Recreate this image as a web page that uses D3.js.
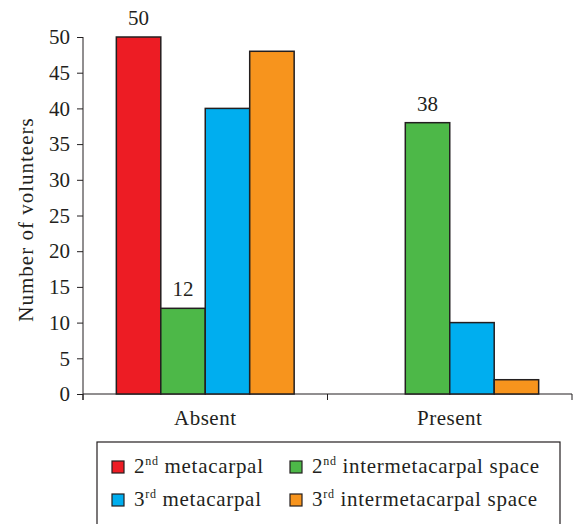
<!DOCTYPE html>
<html>
<head>
<meta charset="utf-8">
<script src="https://cdn.jsdelivr.net/npm/d3@7"></script>
<style>
  body { margin: 0; background: #fff; }
  svg, svg text { font-family: 'Liberation Serif', 'DejaVu Serif', serif; }
</style>
</head>
<body>
<div id="chart"></div>
<script>
const categories = ['Absent', 'Present']
const seriesNames = ['2nd metacarpal', '2nd intermetacarpal space', '3rd metacarpal', '3rd intermetacarpal space']
const absentValues = [50, 12, 40, 48]
const presentValues = [0, 38, 10, 2]
const yTicks = [0, 5, 10, 15, 20, 25, 30, 35, 40, 45, 50]
const labelled = [[0, 0], [0, 1], [1, 1]] // [category, series] pairs with a value label

const colors = ['#ed1c24', '#4db848', '#00aeef', '#f7941d']
const legend = [
  { num: '2', sup: 'nd', rest: ' metacarpal', s: 0 },
  { num: '2', sup: 'nd', rest: ' intermetacarpal space', s: 1 },
  { num: '3', sup: 'rd', rest: ' metacarpal', s: 2 },
  { num: '3', sup: 'rd', rest: ' intermetacarpal space', s: 3 }
]

const width = 573
const height = 524
const margin = { top: 37, right: 1, bottom: 130, left: 83 }
const stroke = '#231f20'
const ink = '#231f20'
const serif = "'Liberation Serif', 'DejaVu Serif', serif"
const fs = 21

const data = categories.map((c, i) => ({
  cat: c,
  values: (i === 0 ? absentValues : presentValues).map((v, s) => ({ s, v }))
}))

const svg = d3.select('#chart').append('svg')
  .attr('width', width)
  .attr('height', height)

const x0 = d3.scaleBand()
  .domain(categories)
  .range([margin.left, width - margin.right])

const x1 = d3.scaleBand()
  .domain(d3.range(seriesNames.length))
  .range([0, x0.bandwidth()])
  .paddingOuter(0.75)

const y = d3.scaleLinear()
  .domain([0, 50])
  .range([height - margin.bottom, margin.top])

// y axis
svg.append('g')
  .attr('transform', `translate(${margin.left},0)`)
  .call(d3.axisLeft(y).tickValues(yTicks).tickSize(6).tickPadding(7).tickSizeOuter(0))
  .call(g => g.attr('font-family', serif).attr('font-size', fs))
  .call(g => g.select('.domain').attr('stroke', stroke).attr('d', `M0,${y(0) + 6}V${y(50)}`))
  .call(g => g.selectAll('.tick line').attr('stroke', stroke))
  .call(g => g.selectAll('.tick text').attr('fill', ink).style('font-family', serif))

// x axis with ticks at band edges
const xAxis = svg.append('g')
xAxis.append('line')
  .attr('x1', margin.left).attr('x2', width - margin.right)
  .attr('y1', y(0)).attr('y2', y(0))
  .attr('stroke', stroke)
xAxis.selectAll('line.edge')
  .data([...categories.map(c => x0(c)), x0(categories[1]) + x0.bandwidth()])
  .join('line')
  .attr('class', 'edge')
  .attr('x1', d => d).attr('x2', d => d)
  .attr('y1', y(0)).attr('y2', y(0) + 6)
  .attr('stroke', stroke)
xAxis.selectAll('text')
  .data(categories)
  .join('text')
  .attr('x', d => x0(d) + x0.bandwidth() / 2)
  .attr('y', y(0) + 31)
  .attr('text-anchor', 'middle')
  .attr('font-size', fs)
  .attr('letter-spacing', 0.5)
  .attr('fill', ink)
  .text(d => d)

// y title
svg.append('text')
  .attr('transform', `translate(33,${(y(0) + y(50)) / 2 + 4}) rotate(-90)`)
  .attr('text-anchor', 'middle')
  .attr('font-size', fs)
  .attr('letter-spacing', 1)
  .attr('fill', ink)
  .text('Number of volunteers')

// bars
const groups = svg.append('g')
  .selectAll('g')
  .data(data)
  .join('g')
  .attr('transform', d => `translate(${x0(d.cat)},0)`)

groups.selectAll('rect')
  .data(d => d.values.filter(v => v.v > 0))
  .join('rect')
  .attr('x', d => x1(d.s))
  .attr('y', d => y(d.v))
  .attr('width', x1.bandwidth())
  .attr('height', d => y(0) - y(d.v))
  .attr('fill', d => colors[d.s])
  .attr('stroke', stroke)
  .attr('stroke-width', 1.5)

// value labels
svg.append('g')
  .selectAll('text')
  .data(labelled)
  .join('text')
  .attr('x', ([c, s]) => x0(categories[c]) + x1(s) + x1.bandwidth() / 2)
  .attr('y', ([c, s]) => y(data[c].values[s].v) - 12)
  .attr('text-anchor', 'middle')
  .attr('font-size', fs)
  .attr('fill', ink)
  .text(([c, s]) => data[c].values[s].v)

// legend
const lg = svg.append('g')
lg.append('rect')
  .attr('x', 97).attr('y', 442)
  .attr('width', 463).attr('height', 100)
  .attr('fill', 'none')
  .attr('stroke', stroke)
  .attr('stroke-width', 1.2)

const items = lg.selectAll('g')
  .data(legend)
  .join('g')
  .attr('transform', (d, i) => `translate(${i % 2 === 0 ? 112 : 290},${i < 2 ? 467 : 500})`)

items.append('rect')
  .attr('x', 0).attr('y', -6)
  .attr('width', 12).attr('height', 12)
  .attr('fill', d => colors[d.s])
  .attr('stroke', stroke)
  .attr('stroke-width', 1.2)

const t = items.append('text')
  .attr('x', 22)
  .attr('y', 6)
  .attr('font-size', fs)
  .attr('letter-spacing', 0.7)
  .attr('fill', ink)
t.append('tspan').text(d => d.num)
t.append('tspan').attr('font-size', 12).attr('dy', -8).text(d => d.sup)
t.append('tspan').attr('dy', 8).text(d => d.rest)
</script>
</body>
</html>
